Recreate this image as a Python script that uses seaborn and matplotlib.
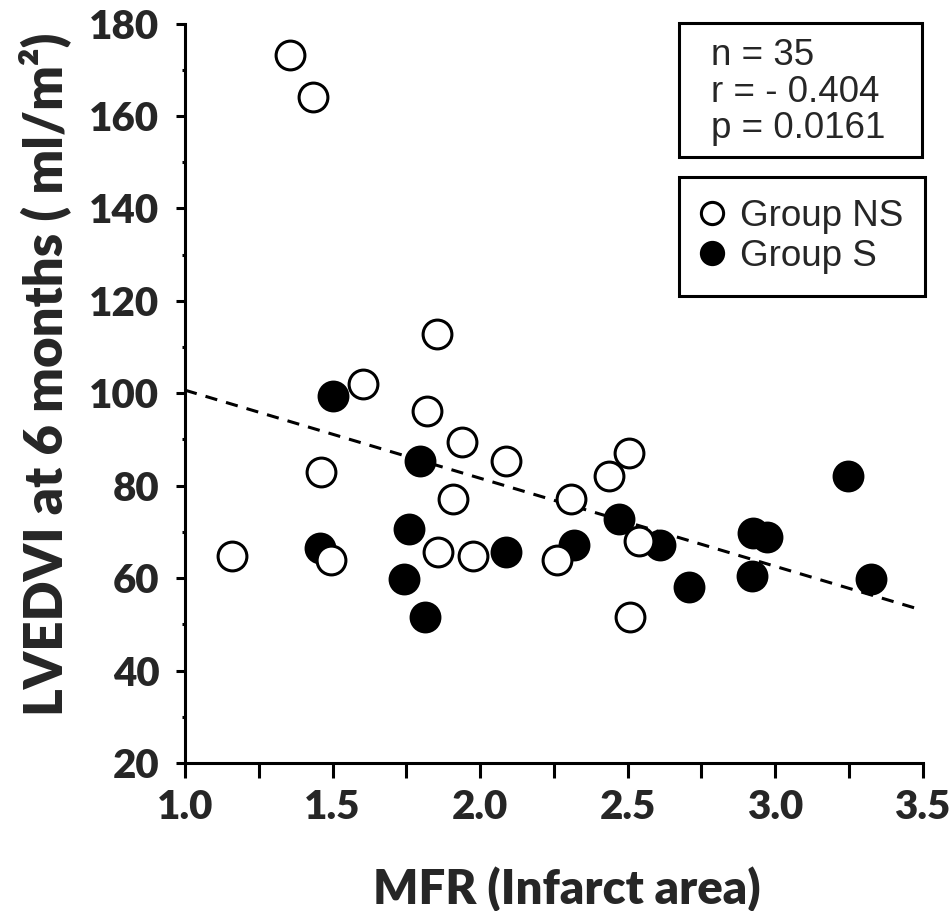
import numpy as np
import pandas as pd
import matplotlib
matplotlib.use("Agg")
import matplotlib.pyplot as plt
from matplotlib.lines import Line2D
from matplotlib.patches import Rectangle
from matplotlib.ticker import MultipleLocator
import seaborn as sns

# MFR (infarct area) vs LVEDVI at 6 months
ns_mfr = [1.356, 1.434, 1.854, 1.605, 1.822, 1.94, 2.088, 1.46, 1.907, 2.31,
          2.506, 2.438, 2.54, 1.158, 1.494, 1.856, 1.975, 2.26, 2.508]
ns_lvedvi = [173.2, 164.1, 112.8, 102.0, 96.2, 89.5, 85.4, 82.9, 77.1, 77.1,
             87.1, 82.2, 68.1, 64.8, 63.9, 65.6, 64.8, 63.9, 51.5]
s_mfr = [1.503, 1.795, 1.76, 1.458, 1.743, 1.814, 2.088, 2.32, 2.472, 2.61,
         2.924, 2.973, 2.707, 2.922, 3.247, 3.326]
s_lvedvi = [99.5, 85.4, 70.6, 66.5, 59.7, 51.5, 65.6, 67.2, 72.9, 67.2,
            69.7, 68.8, 58.1, 60.5, 82.1, 59.7]

stats_lines = ["n = 35", "r = - 0.404", "p = 0.0161"]
group_labels = ["Group NS", "Group S"]

df = pd.DataFrame({
    "mfr": ns_mfr + s_mfr,
    "lvedvi": ns_lvedvi + s_lvedvi,
    "group": [group_labels[0]] * len(ns_mfr) + [group_labels[1]] * len(s_mfr),
})

sns.set_style("ticks")
plt.rcParams["font.family"] = ["Lato", "DejaVu Sans"]

W, H = 949, 911
fig = plt.figure(figsize=(W / 100, H / 100), dpi=100)
ax = fig.add_axes([185 / W, 1 - 762.9 / H, 737.5 / W, 739.2 / H])
ax.set_xlim(1.0, 3.5)
ax.set_ylim(20, 180)

# regression line across the whole x range
sns.regplot(data=df, x="mfr", y="lvedvi", scatter=False, ci=None, truncate=False,
            ax=ax, line_kws=dict(color="black", lw=2.2, ls=(0, (4, 3))))

sns.scatterplot(data=df[df.group == "Group S"], x="mfr", y="lvedvi", ax=ax,
                color="black", edgecolor="black", linewidth=2.2, s=430, zorder=3)
sns.scatterplot(data=df[df.group == "Group NS"], x="mfr", y="lvedvi", ax=ax,
                color="white", edgecolor="black", linewidth=2.2, s=430, zorder=4)

ax.set_xlim(1.0, 3.5)
ax.set_ylim(20, 180)
ax.xaxis.set_major_locator(MultipleLocator(0.5))
ax.xaxis.set_minor_locator(MultipleLocator(0.25))
ax.yaxis.set_major_locator(MultipleLocator(20))
ax.yaxis.set_minor_locator(MultipleLocator(10))
ax.xaxis.set_major_formatter(matplotlib.ticker.FormatStrFormatter("%.1f"))

for side in ["top", "right"]:
    ax.spines[side].set_visible(False)
for side in ["left", "bottom"]:
    ax.spines[side].set_linewidth(2.2)
    ax.spines[side].set_color("black")

ax.tick_params(axis="x", which="both", length=10.5, width=2.2, color="black",
               direction="out", pad=8)
ax.tick_params(axis="y", which="major", length=6.5, width=2.2, color="black",
               direction="out", pad=12)
ax.tick_params(axis="y", which="minor", length=2.5, width=2.2, color="black",
               direction="out")
for lab in ax.get_xticklabels() + ax.get_yticklabels():
    lab.set_fontsize(29)
    lab.set_fontweight("heavy")

ax.set_xlabel("MFR (Infarct area)", fontsize=34, fontweight="heavy")
ax.set_ylabel("LVEDVI at 6 months ( ml/m²)", fontsize=38, fontweight="heavy")
ax.xaxis.set_label_coords(0.518, -0.14)
ax.yaxis.set_label_coords(-0.155, 0.526)

# stats box
fig.add_artist(Rectangle((679 / W, 1 - 156.7 / H), 243 / W, 134 / H,
                         transform=fig.transFigure, fill=False,
                         edgecolor="black", linewidth=2.2))
for i, line in enumerate(stats_lines):
    fig.text(711 / W, 1 - (65 + i * 36.5) / H, line, fontsize=26.5,
             family=["Liberation Sans"], va="baseline", ha="left")

# legend
handles = [
    Line2D([], [], marker="o", ls="", markersize=16, markerfacecolor="white",
           markeredgecolor="black", markeredgewidth=2.2),
    Line2D([], [], marker="o", ls="", markersize=16, markerfacecolor="black",
           markeredgecolor="black", markeredgewidth=2.2),
]
leg = ax.legend(handles, group_labels, loc="upper left",
                bbox_to_anchor=(679 / W, 1 - 176.7 / H),
                bbox_transform=fig.transFigure, borderaxespad=0,
                frameon=True, fancybox=False, framealpha=1, edgecolor="black",
                prop=dict(family="Liberation Sans", size=26.5),
                handlelength=0.6, handletextpad=0.45, borderpad=0.6,
                labelspacing=0.15)
leg.get_frame().set_linewidth(2.2)

fig.savefig("out.png", dpi=100)
